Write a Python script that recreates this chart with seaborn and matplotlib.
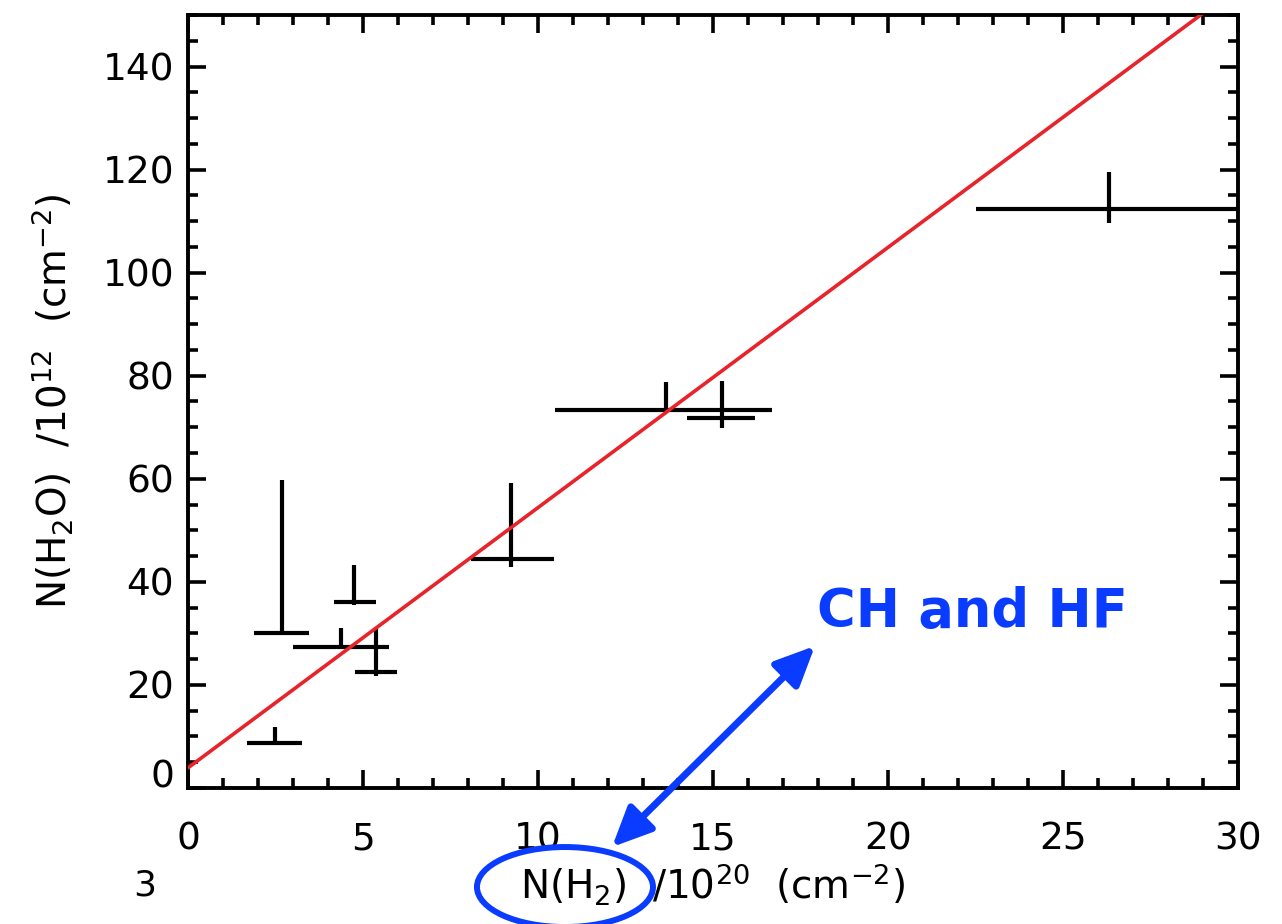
"""
N(H2O) vs N(H2) with linear fit and a CH/HF annotation.
"""

import matplotlib.pyplot as plt
import seaborn as sns
from matplotlib.patches import Ellipse
from matplotlib.ticker import MultipleLocator

# ==============================================================================
# DATA
# ==============================================================================

n_h2 = [2.5, 2.7, 4.37, 4.74, 5.37, 9.23, 13.66, 15.26, 26.3]
n_h2o = [8.7, 30.1, 27.4, 36.1, 22.5, 44.5, 73.4, 71.7, 112.4]
xerr_low = [0.81, 0.81, 1.37, 0.57, 0.60, 1.13, 3.16, 1.00, 3.80]
xerr_high = [0.76, 0.76, 1.37, 0.63, 0.60, 1.23, 3.04, 0.94, 3.80]
yerr_low = [0.0, 0.0, 0.0, 0.6, 0.8, 1.6, 0.0, 1.8, 2.7]
yerr_high = [3.1, 29.7, 3.7, 7.2, 8.8, 14.7, 5.4, 7.3, 7.2]

fit_intercept = 3.9
fit_slope = 5.05
fit_x = [0, 30]

BLUE = "#0a3cff"
RED = "#e8232a"

# ==============================================================================
# PLOT
# ==============================================================================

sns.set_theme(style="ticks")
plt.rcParams["font.family"] = ["DejaVu Sans"]
plt.rcParams["mathtext.fontset"] = "dejavusans"
plt.rcParams["text.color"] = "black"

fig = plt.figure(figsize=(12.82, 9.24), dpi=100)
ax = fig.add_axes([0.1466, 0.1472, 0.8191, 0.8366])

fit_y = [fit_intercept + fit_slope * x for x in fit_x]
sns.lineplot(x=fit_x, y=fit_y, ax=ax, color=RED, linewidth=2.6, zorder=3)

ax.errorbar(
    n_h2, n_h2o,
    xerr=[xerr_low, xerr_high],
    yerr=[yerr_low, yerr_high],
    fmt="none", ecolor="black", elinewidth=3.0, capsize=0, zorder=2,
)

ax.set_xlim(0, 30)
ax.set_ylim(0, 150)
ax.xaxis.set_major_locator(MultipleLocator(5))
ax.xaxis.set_minor_locator(MultipleLocator(1))
ax.yaxis.set_major_locator(MultipleLocator(20))
ax.yaxis.set_minor_locator(MultipleLocator(5))

for side in ["top", "right", "bottom", "left"]:
    ax.spines[side].set_visible(True)
    ax.spines[side].set_linewidth(2.8)
    ax.spines[side].set_color("black")

ax.tick_params(which="both", direction="in", top=True, right=True,
               width=2.6, color="black", labelsize=27, labelcolor="black")
ax.tick_params(which="major", length=13)
ax.tick_params(which="minor", length=7)
ax.tick_params(axis="x", which="major", pad=24)
ax.tick_params(axis="y", which="major", pad=10)

ax.set_xlabel(r"N(H$_2$)  /10$^{20}$  (cm$^{-2}$)", fontsize=28,
              labelpad=3, color="black")
ax.set_ylabel(r"N(H$_2$O)  /10$^{12}$  (cm$^{-2}$)", fontsize=28,
              labelpad=20, color="black")

# annotation
fig.text(0.637, 0.3214, "CH and HF", color=BLUE, fontsize=38,
         fontweight="bold", ha="left", va="baseline")
ax.annotate(
    "", xy=(0.4774, 0.0833), xycoords="figure fraction",
    xytext=(0.6357, 0.3009), textcoords="figure fraction",
    arrowprops=dict(arrowstyle="<|-|>,head_length=1.2,head_width=0.55",
                    color=BLUE, lw=5, shrinkA=0, shrinkB=0,
                    mutation_scale=20),
    annotation_clip=False,
)
fig.add_artist(Ellipse((0.4407, 0.040), 0.1373, 0.0866,
                       transform=fig.transFigure, fill=False,
                       edgecolor=BLUE, linewidth=4.3, clip_on=False))

fig.text(0.113, 0.042, "3", fontsize=26, color="black",
         ha="center", va="center")

# IDL-style: the zero label sits on the axis corner
fig.canvas.draw()
for tick in ax.yaxis.get_major_ticks():
    if abs(tick.get_loc()) < 1e-9:
        tick.label1.set_verticalalignment("baseline")

fig.savefig("out.png", dpi=100)
